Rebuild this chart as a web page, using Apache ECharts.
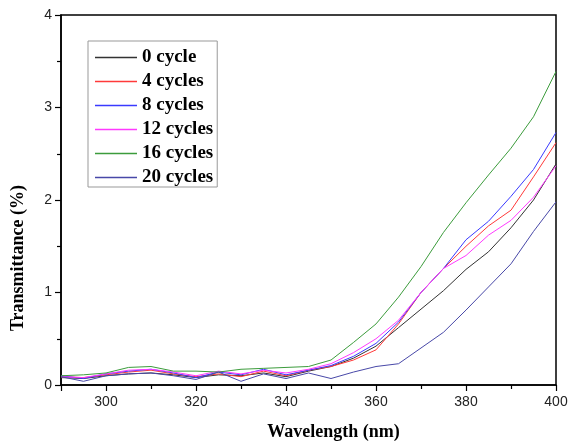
<!DOCTYPE html>
<html>
<head>
<meta charset="utf-8">
<script src="https://cdn.jsdelivr.net/npm/echarts@6/dist/echarts.min.js"></script>
<style>html,body{margin:0;padding:0;background:#fff}#c{width:570px;height:441px}</style>
</head>
<body>
<div id="c"></div>
<script>
const wavelength = [290,295,300,305,310,315,320,325,330,335,340,345,350,355,360,365,370,375,380,385,390,395,400];
const cycle0  = [0.08,0.07,0.10,0.12,0.13,0.11,0.08,0.11,0.10,0.13,0.09,0.15,0.20,0.29,0.42,0.62,0.82,1.02,1.25,1.44,1.70,2.00,2.39];
const cycle4  = [0.09,0.08,0.11,0.14,0.16,0.12,0.09,0.12,0.09,0.15,0.10,0.16,0.20,0.27,0.38,0.66,1.00,1.26,1.50,1.72,1.89,2.25,2.62];
const cycle8  = [0.10,0.07,0.12,0.15,0.17,0.13,0.08,0.14,0.11,0.17,0.11,0.16,0.21,0.31,0.45,0.68,1.00,1.26,1.57,1.77,2.04,2.33,2.73];
const cycle12 = [0.09,0.08,0.12,0.16,0.17,0.14,0.10,0.15,0.12,0.16,0.13,0.17,0.23,0.35,0.50,0.70,1.00,1.26,1.40,1.62,1.78,2.03,2.37];
const cycle16 = [0.10,0.11,0.13,0.19,0.20,0.15,0.15,0.14,0.17,0.18,0.19,0.20,0.27,0.46,0.66,0.95,1.28,1.65,1.97,2.27,2.56,2.90,3.39];
const cycle20 = [0.09,0.04,0.10,0.12,0.13,0.10,0.06,0.14,0.04,0.12,0.07,0.13,0.07,0.14,0.20,0.23,0.40,0.57,0.81,1.06,1.31,1.66,1.98];
const seriesNames = ['0 cycle','4 cycles','8 cycles','12 cycles','16 cycles','20 cycles'];
const seriesData = [cycle0, cycle4, cycle8, cycle12, cycle16, cycle20];
const colors = ['#333333','#ff3a3a','#3a3aff','#ff3aff','#3c9c3c','#4848a8'];

const chart = echarts.init(document.getElementById('c'));
const serif = '"Liberation Serif","Times New Roman",serif';
const sans = '"Liberation Sans",Arial,sans-serif';
chart.setOption({
  animation: false,
  backgroundColor: '#fff',
  grid: { left: 61, right: 14, top: 15, bottom: 56, show: true, borderColor: '#000', borderWidth: 1.5, outerBoundsMode: 'none', containLabel: false },
  legend: {
    orient: 'vertical', left: 88, top: 41,
    itemWidth: 42, itemHeight: 14, itemGap: 5,
    padding: [7, 4, 0, 7],
    borderColor: '#999', borderWidth: 1,
    icon: 'path://M0,0H42V1.3H0Z',
    textStyle: { fontFamily: serif, fontWeight: 'bold', fontSize: 19, color: '#000' },
    data: seriesNames
  },
  xAxis: {
    type: 'value', min: 290, max: 400, splitNumber: 5,
    name: 'Wavelength (nm)', nameLocation: 'middle', nameGap: 38,
    nameTextStyle: { fontFamily: serif, fontWeight: 'bold', fontSize: 18, color: '#000', padding: [0,0,0,50] },
    axisLine: { show: true, lineStyle: { color: '#000', width: 1.5 } },
    axisTick: { show: true, inside: false, length: 6, lineStyle: { color: '#000', width: 1.2 } },
    minorTick: { show: true, splitNumber: 2, length: 4, lineStyle: { color: '#000', width: 1.2 } },
    axisLabel: { fontFamily: sans, fontSize: 14, color: '#222', margin: 10, showMinLabel: false },
    splitLine: { show: false }
  },
  yAxis: {
    type: 'value', min: 0, max: 4, interval: 1,
    name: 'Transmittance (%)', nameLocation: 'middle', nameGap: 34,
    nameTextStyle: { fontFamily: serif, fontWeight: 'bold', fontSize: 18, color: '#000', padding: [0,116,0,0] },
    axisLine: { show: true, lineStyle: { color: '#000', width: 1.5 } },
    axisTick: { show: true, inside: false, length: 6, lineStyle: { color: '#000', width: 1.2 } },
    minorTick: { show: true, splitNumber: 2, length: 4, lineStyle: { color: '#000', width: 1.2 } },
    axisLabel: { fontFamily: sans, fontSize: 14, color: '#222', margin: 9 },
    splitLine: { show: false }
  },
  series: seriesNames.map((n, i) => ({
    name: n, type: 'line', symbol: 'none',
    data: wavelength.map((w, j) => [w, seriesData[i][j]]),
    lineStyle: { color: colors[i], width: 1 },
    itemStyle: { color: colors[i] }
  }))
});
</script>
</body>
</html>
